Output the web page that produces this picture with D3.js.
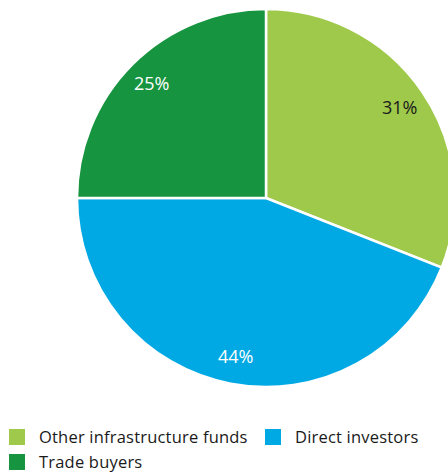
<!DOCTYPE html>
<html>
<head>
<meta charset="utf-8">
<script src="https://cdn.jsdelivr.net/npm/d3@7"></script>
<style>
  html, body { margin: 0; padding: 0; background: #fff; }
  svg { display: block; }
  text { font-family: "Open Sans", "Noto Sans", sans-serif; }
</style>
</head>
<body>
<svg id="chart" width="448" height="472"></svg>
<script>
// Exits by buyer type (share of total)
const categories = ["Other infrastructure funds", "Direct investors", "Trade buyers"];
const shares = [31, 44, 25];
const colors = ["#9fc94b", "#00a9e3", "#16943f"];
const labelColors = ["#1a1a1a", "#ffffff", "#ffffff"];
const legendRows = [[0, 1], [2]];

const svg = d3.select("#chart");
const cx = 266, cy = 198, radius = 189;

const data = categories.map((c, i) => ({ name: c, value: shares[i], color: colors[i], labelColor: labelColors[i] }));

const pie = d3.pie().value(d => d.value).sort(null);
const arc = d3.arc().innerRadius(0).outerRadius(radius);
const labelArc = d3.arc().innerRadius(radius * 0.855).outerRadius(radius * 0.855);

const g = svg.append("g").attr("transform", `translate(${cx},${cy})`);
const arcs = pie(data);

g.selectAll("path.slice")
  .data(arcs)
  .join("path")
  .attr("class", "slice")
  .attr("d", arc)
  .attr("fill", d => d.data.color)
  .attr("stroke", "#ffffff")
  .attr("stroke-width", 2.5)
  .attr("stroke-linejoin", "miter");

g.selectAll("text.pct")
  .data(arcs)
  .join("text")
  .attr("class", "pct")
  .attr("transform", d => `translate(${labelArc.centroid(d)})`)
  .attr("text-anchor", "middle")
  .attr("dy", "0.36em")
  .attr("font-size", 18)
  .attr("fill", d => d.data.labelColor)
  .text(d => d.data.value + "%");

// Legend: two rows, swatch + label
const legend = svg.append("g");
const rowY = [429, 454];
const colX = [9, 265];
legendRows.forEach((row, r) => {
  row.forEach((idx, c) => {
    const item = legend.append("g").attr("transform", `translate(${colX[c]},${rowY[r]})`);
    item.append("rect").attr("width", 16).attr("height", 16).attr("fill", colors[idx]);
    item.append("text")
      .attr("x", 30)
      .attr("y", 13.5)
      .attr("font-size", 16.5)
      .attr("letter-spacing", 0.2)
      .attr("fill", "#1a1a1a")
      .text(categories[idx]);
  });
});
</script>
</body>
</html>
